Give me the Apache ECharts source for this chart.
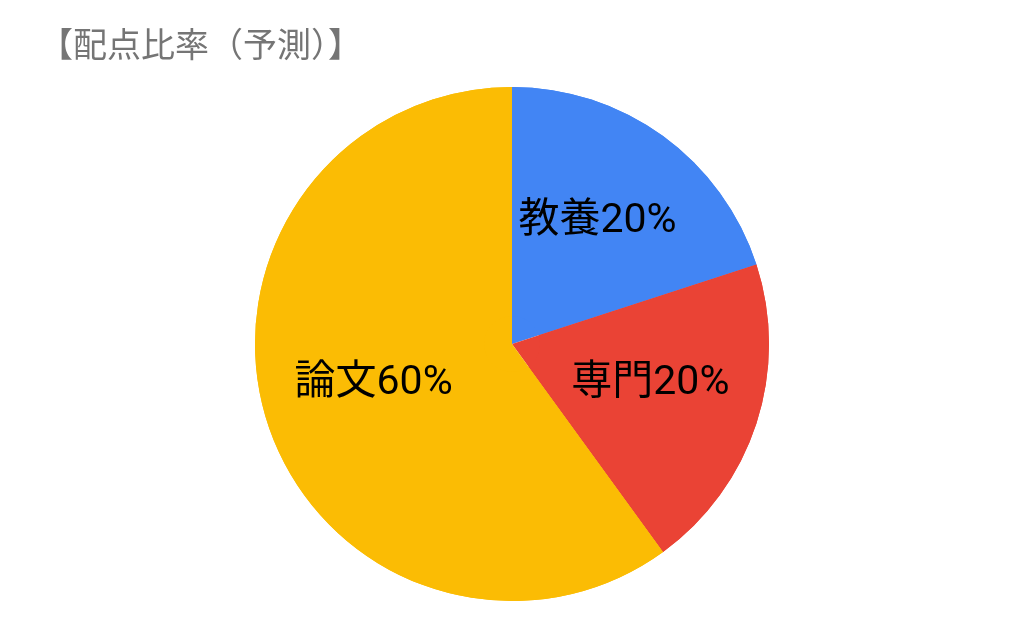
<!DOCTYPE html>
<html>
<head>
<meta charset="utf-8">
<script src="https://cdn.jsdelivr.net/npm/echarts@6/dist/echarts.min.js"></script>
<style>
  html, body { margin: 0; padding: 0; background: #fff; }
  #main { width: 1024px; height: 633px; }
</style>
</head>
<body>
<div id="main"></div>
<script>
// データ
var categories = ['教養', '専門', '論文'];
var values = [20, 20, 60];
var colors = ['#4285F4', '#EA4335', '#FBBC04'];

var font = '"Noto Sans CJK JP", "Noto Sans", sans-serif';
var labelFont = 'Roboto, "Noto Sans CJK JP", sans-serif';

var pieData = categories.map(function (name, i) {
  return { name: name, value: values[i], itemStyle: { color: colors[i] } };
});

var myChart = echarts.init(document.getElementById('main'));
var option = {
  backgroundColor: '#ffffff',
  animation: false,
  title: {
    text: '【配点比率（予測）】',
    left: 34,
    top: 22,
    textStyle: { fontFamily: font, fontSize: 34, fontWeight: 'normal', color: '#757575' }
  },
  series: [{
    // 本体
    type: 'pie',
    center: [512, 344],
    radius: [0, 257],
    startAngle: 90,
    clockwise: true,
    silent: true,
    data: pieData,
    label: { show: false },
    labelLine: { show: false }
  }, {
    // ラベル用（透明）
    type: 'pie',
    center: [512, 344],
    radius: [28, 257],
    startAngle: 90,
    clockwise: true,
    silent: true,
    data: pieData,
    itemStyle: { color: 'rgba(0,0,0,0)' },
    label: {
      show: true,
      position: 'inside',
      formatter: function (p) { return p.name + p.value + '%'; },
      fontFamily: labelFont,
      fontSize: 41,
      color: '#000',
      offset: [0, -5]
    },
    labelLine: { show: false }
  }]
};

myChart.setOption(option);
</script>
</body>
</html>
